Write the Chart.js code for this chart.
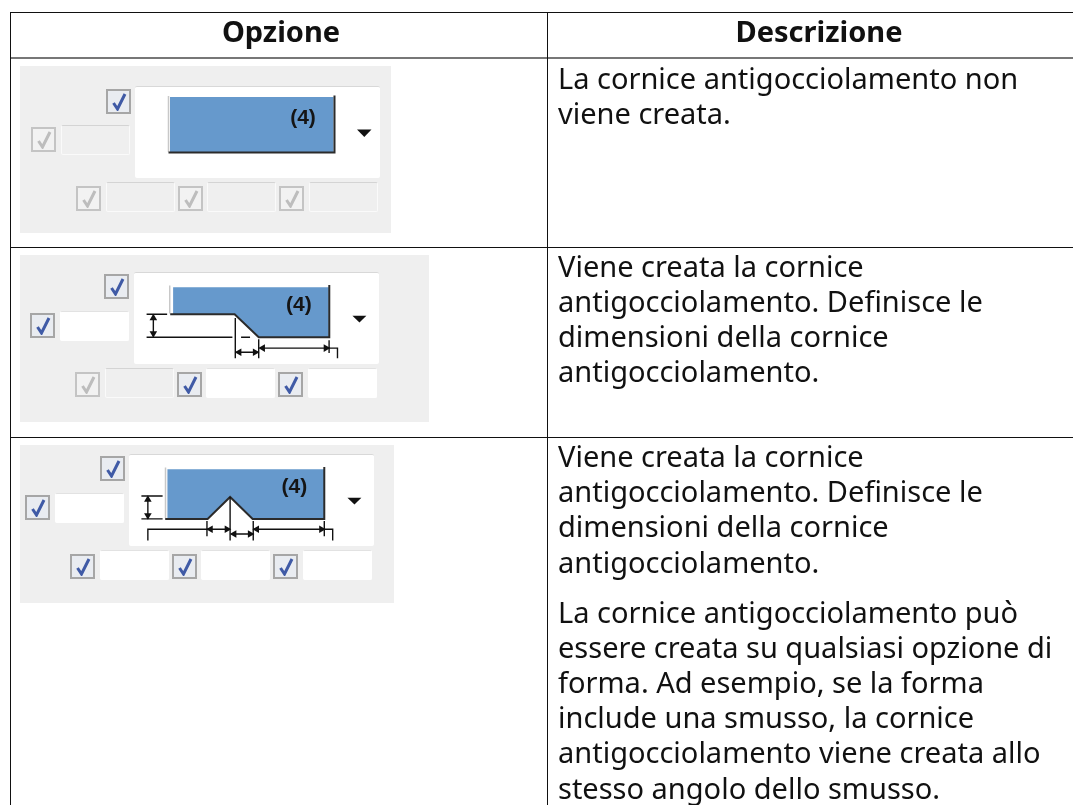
<!DOCTYPE html>
<html lang="it">
<head>
<meta charset="utf-8">
<title>Opzione / Descrizione</title>
<script src="https://cdn.jsdelivr.net/npm/chart.js@4.4.3/dist/chart.umd.min.js"></script>
<style>
  html, body { margin: 0; padding: 0; background: #fff; }
  body { position: relative; width: 1073px; height: 805px; overflow: hidden; font-family: "Noto Sans", sans-serif; color: #111; }
  .h { position: absolute; left: 10px; right: 0; height: 1px; background: #111; }
  .h.head { height: 2px; background: #777; }
  .v { position: absolute; top: 12px; bottom: 0; width: 1px; background: #111; }
  .th { position: absolute; top: 12px; line-height: 37px; font-size: 29px; font-weight: 700; text-align: center; filter: blur(.3px); }
  .td { position: absolute; left: 558px; font-size: 29px; line-height: 35.2px; white-space: nowrap; filter: blur(.3px); }
  .panel { position: absolute; background: #efefef; }
  .parts { position: absolute; inset: 0; filter: blur(.6px); }
  .box { position: absolute; background: #fff; border-top: 1px solid #d8d8d8; box-sizing: border-box; border-radius: 2px; }
  .box canvas { display: block; }
  .field { position: absolute; box-sizing: border-box; border: 1px solid #fafafa; border-top-color: #d4d4d4; border-radius: 2px; }
  .field.on { background: #fff; border-color: #fff; border-top-color: #e2e2e2; }
  .check { position: absolute; box-sizing: border-box; width: 25px; height: 25px; border: 2px solid #a6a6a6; background: #e9ecf1; }
  .check.off { border-color: #c4c4c4; background: #f2f2f2; }
  .check svg { position: absolute; left: 3px; top: 2px; }
</style>
</head>
<body>
  <div class="h" style="top:12px"></div>
  <div class="h head" style="top:57px"></div>
  <div class="h" style="top:247px"></div>
  <div class="h" style="top:437px"></div>
  <div class="v" style="left:10px"></div>
  <div class="v" style="left:547px"></div>

  <div class="th" style="left:181px;width:200px">Opzione</div>
  <div class="th" style="left:719px;width:200px">Descrizione</div>

  <div class="td" style="top:59.5px">La cornice antigocciolamento non<br>viene creata.</div>
  <div class="td" style="top:247.5px">Viene creata la cornice<br>antigocciolamento. Definisce le<br>dimensioni della cornice<br>antigocciolamento.</div>
  <div class="td" style="top:438px">Viene creata la cornice<br>antigocciolamento. Definisce le<br>dimensioni della cornice<br>antigocciolamento.</div>
  <div class="td" style="top:593.5px">La cornice antigocciolamento può<br>essere creata su qualsiasi opzione di<br>forma. Ad esempio, se la forma<br>include una smusso, la cornice<br>antigocciolamento viene creata allo<br>stesso angolo dello smusso.</div>

<script>
// shape outlines, in pixels of the white preview box
const shape1 = [[35, 10], [198.5, 10], [198.5, 65.5], [35, 65.5]];
const shape2 = [[36, 10.8], [197.5, 10.8], [197.5, 66.2], [124.8, 66.2], [99.8, 40.8], [36, 40.8]];
const shape3 = [[35.3, 10.8], [197.7, 10.8], [197.7, 65.8], [123.7, 65.8], [100.3, 41.5], [77, 65.8], [35.3, 65.8]];

const edge1 = [[33.5, 65.5], [199.5, 65.5], [199.5, 8.5]];
const edge2 = [[33, 40.8], [99.8, 40.8], [124.8, 66.2], [198, 66.2], [198, 8.5]];
const edge3 = [[33, 65.8], [77, 65.8], [100.3, 41.5], [123.7, 65.8], [198, 65.8], [198, 8.5]];

const lightEdge1 = [[33.5, 9], [33.5, 65]];
const lightEdge2 = [[32.5, 9], [32.5, 40]];
const lightEdge3 = [[33.3, 9], [33.3, 65]];

// dimension lines, null starts a new stroke
const dims2 = [
  [8.5, 40.8], [29.8, 40.8], null,
  [8.5, 66.2], [97.5, 66.2], null,
  [106.5, 66.2], [115.8, 66.2], null,
  [15.5, 42], [15.5, 65], null,
  [100.5, 45], [100.5, 89.5], null,
  [124.8, 68.5], [124.8, 89.5], null,
  [197.8, 69.5], [197.8, 83.5], null,
  [197.8, 78.2], [206.5, 78.2], [206.5, 89.5], null,
  [101.5, 82.8], [123.8, 82.8], null,
  [126, 78.2], [197.5, 78.2]
];
const dims3 = [
  [8.3, 40.5], [30.3, 40.5], null,
  [8.3, 65.8], [30.3, 65.8], null,
  [15, 41.5], [15, 65], null,
  [15, 89.8], [15, 77.2], [76.3, 77.2], null,
  [76.3, 68], [76.3, 85], null,
  [100.3, 41.5], [100.3, 89.8], null,
  [124.3, 68], [124.3, 89.8], null,
  [198, 68], [198, 85], null,
  [198, 77.2], [206.7, 77.2], [206.7, 89.8], null,
  [77, 77.2], [99.7, 77.2], null,
  [101.7, 82.5], [123.7, 82.5], null,
  [125, 77.2], [197.7, 77.2]
];

// arrow heads: x, y, rotation in degrees
const arrows2 = [
  [15.5, 45, 0], [15.5, 62, 180],
  [104.5, 82.8, 270], [121, 82.8, 90],
  [129, 78.2, 270], [194.5, 78.2, 90]
];
const arrows3 = [
  [15, 44.5, 0], [15, 62, 180],
  [80, 77.2, 270], [97, 77.2, 90],
  [104.5, 82.5, 270], [121, 82.5, 90],
  [128, 77.2, 270], [195, 77.2, 90]
];

const dropdown = [[222, 42.5], [236.5, 42.5], [229.3, 50]];
const labelAt1 = [168, 31];
const labelAt2 = [166.5, 31];
const labelAt3 = [167, 31];
const shapeLabel = '(4)';

// panel x, y, w, h and where its white box sits
const panels = [
  { rect: [20, 66, 371, 167], box: [135, 86], shape: shape1, edge: edge1, light: lightEdge1, dims: [], arrows: [], label: labelAt1, on: [true, false, false, false, false] },
  { rect: [20, 255, 409, 167], box: [133.5, 271.5], shape: shape2, edge: edge2, light: lightEdge2, dims: dims2, arrows: arrows2, label: labelAt2, on: [true, true, false, true, true] },
  { rect: [20, 445, 374, 158], box: [129, 453.5], shape: shape3, edge: edge3, light: lightEdge3, dims: dims3, arrows: arrows3, label: labelAt3, on: [true, true, true, true, true] }
];

const BOX_W = 245, BOX_H = 92;

// checkbox + field slots, relative to the white box: check dx, dy, field dx, dy
const slots = [
  [-29.5, 2.5, null, null],
  [-104, 41, -74, 39],
  [-59, 100, -29, 96],
  [43, 100, 72, 96],
  [144, 100, 174, 96]
];

function points(list) {
  return list.map(p => p ? { x: p[0], y: p[1] } : { x: null, y: null });
}

const labelPlugin = {
  id: 'shapeLabel',
  afterDatasetsDraw(chart, args, opts) {
    const { ctx, scales } = chart;
    ctx.save();
    ctx.font = 'bold 21px "Liberation Sans"';
    ctx.fillStyle = '#151515';
    ctx.textAlign = 'center';
    ctx.textBaseline = 'middle';
    ctx.fillText(shapeLabel, scales.x.getPixelForValue(opts.at[0]), scales.y.getPixelForValue(opts.at[1]));
    ctx.restore();
  }
};

function addPanel(p) {
  const panel = document.createElement('div');
  panel.className = 'panel';
  panel.style.cssText = `left:${p.rect[0]}px;top:${p.rect[1]}px;width:${p.rect[2]}px;height:${p.rect[3]}px`;
  document.body.appendChild(panel);

  const parts = document.createElement('div');
  parts.className = 'parts';
  panel.appendChild(parts);

  const ox = p.box[0] - p.rect[0], oy = p.box[1] - p.rect[1];

  slots.forEach((s, i) => {
    const on = p.on[i];
    const check = document.createElement('div');
    check.className = 'check' + (on ? '' : ' off');
    check.style.left = (ox + s[0]) + 'px';
    check.style.top = (oy + s[1]) + 'px';
    check.innerHTML = `<svg width="17" height="18" viewBox="0 0 17 18"><path d="M2.5 10 L6.5 16 L14 1" fill="none" stroke="${on ? '#3f5aa6' : '#bdbdbd'}" stroke-width="3"/></svg>`;
    parts.appendChild(check);
    if (s[2] === null) return;
    const field = document.createElement('div');
    field.className = 'field' + (on ? ' on' : '');
    field.style.cssText = `left:${ox + s[2]}px;top:${oy + s[3]}px;width:69px;height:30px`;
    parts.appendChild(field);
  });

  const box = document.createElement('div');
  box.className = 'box';
  box.style.cssText = `left:${ox}px;top:${oy}px;width:${BOX_W}px;height:${BOX_H}px`;
  const canvas = document.createElement('canvas');
  canvas.width = BOX_W;
  canvas.height = BOX_H;
  box.appendChild(canvas);
  parts.appendChild(box);

  new Chart(canvas, {
    type: 'scatter',
    plugins: [labelPlugin],
    data: {
      datasets: [
        { data: points(p.shape), showLine: true, fill: 'shape', backgroundColor: '#6699cc', borderWidth: 0, pointRadius: 0, order: 5 },
        { data: points(dropdown), showLine: true, fill: 'shape', backgroundColor: '#111', borderWidth: 0, pointRadius: 0, order: 4 },
        { data: points(p.light), showLine: true, borderColor: '#c8c8c8', borderWidth: 1.5, pointRadius: 0, order: 3 },
        { data: points(p.edge), showLine: true, borderColor: '#2b2b2b', borderWidth: 2, pointRadius: 0, order: 2 },
        { data: points(p.dims), showLine: true, spanGaps: false, borderColor: '#111', borderWidth: 1.4, pointRadius: 0, order: 1 },
        { data: points(p.arrows), showLine: false, pointStyle: 'triangle', pointRadius: 4.4, pointRotation: p.arrows.map(a => a[2]), backgroundColor: '#111', borderColor: '#111', borderWidth: 0, order: 0 }
      ]
    },
    options: {
      responsive: false,
      animation: false,
      layout: { padding: 0 },
      scales: {
        x: { type: 'linear', display: false, min: 0, max: BOX_W },
        y: { type: 'linear', display: false, min: 0, max: BOX_H, reverse: true }
      },
      plugins: { legend: { display: false }, tooltip: { enabled: false }, shapeLabel: { at: p.label } }
    }
  });
}

panels.forEach(addPanel);
</script>
</body>
</html>
